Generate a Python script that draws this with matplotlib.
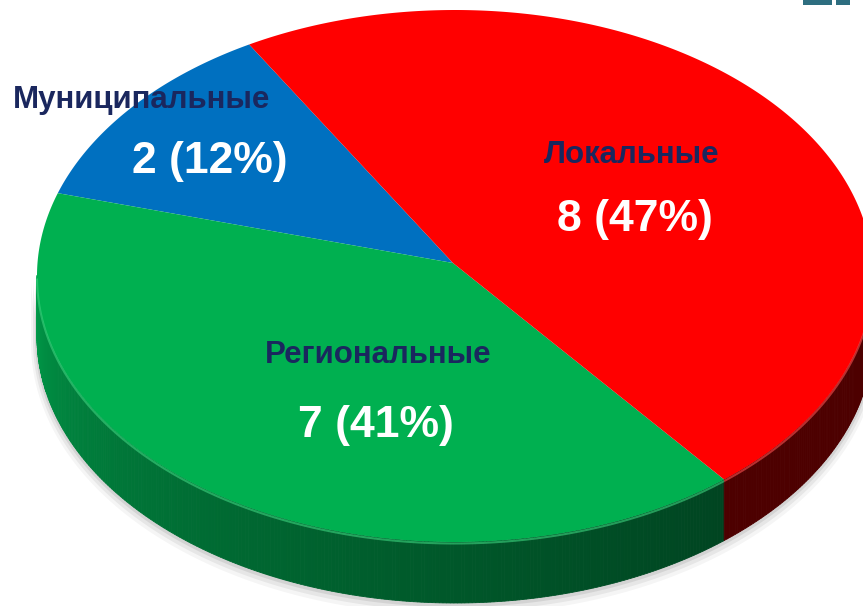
import numpy as np
import matplotlib
matplotlib.use("Agg")
import matplotlib.pyplot as plt

# data
categories = ["Муниципальные", "Региональные", "Локальные"]
counts = [2, 7, 8]
percents = [12, 41, 47]
top_colors = ["#0070C0", "#00B050", "#FF0000"]
edge_colors = ["#3A95D8", "#3DD47F", "#FF5050"]
side_light = [(0.0, 0.35, 0.62), (0.0, 0.64, 0.30), (0.38, 0.0, 0.0)]
side_dark = [(0.0, 0.20, 0.40), (0.0, 0.27, 0.13), (0.30, 0.0, 0.0)]

W, H = 863, 606
cx, cy = 455, H - 276      # ellipse centre (y up)
vx, vy = 453, H - 263      # pie apex on the top face
a, b = 418, 266             # semi axes
depth = 61
start = 119.5

fig = plt.figure(figsize=(W / 100, H / 100), dpi=100)
ax = fig.add_axes([0, 0, 1, 1])

# wedge angles from the library's pie layout
wedges, _ = ax.pie(counts, startangle=start, counterclock=True, radius=1,
                   colors=top_colors, wedgeprops=dict(linewidth=0))
spans = []
for w in wedges:
    t1, t2 = w.theta1, w.theta2
    spans.append((t1, t2))
    w.set_visible(False)

ax.set_aspect("auto")
ax.set_xlim(0, W)
ax.set_ylim(0, H)
ax.axis("off")


def ell(t, dz=0.0, grow=0.0):
    r = np.radians(t)
    return cx + (a + grow) * np.cos(r), cy + (b + grow) * np.sin(r) - dz


# soft shadow
for k, al in [(6, 0.04), (4, 0.06), (2, 0.08)]:
    t = np.linspace(180, 360, 200)
    xs, ys = ell(t, depth + k, k)
    xt, yt = ell(t[::-1], 0, k)
    ax.fill(np.r_[xs, xt], np.r_[ys, yt], color="black", alpha=al, lw=0, zorder=1)

# side walls (front half only)
for (t1, t2), lo_c, hi_c in zip(spans, side_light, side_dark):
    angs = np.r_[np.arange(t1, t2, 0.5), t2]
    for s, e in zip(angs[:-1], angs[1:]):
        m = ((s + e) / 2) % 360
        if m < 180:
            continue
        f = min(1.0, (m - 180) / 130) ** 0.6
        col = tuple(lo_c[i] + (hi_c[i] - lo_c[i]) * f for i in range(3))
        px, py = ell(np.array([s, e]))
        ax.fill([px[0], px[1], px[1], px[0]],
                [py[0], py[1], py[1] - depth, py[0] - depth],
                color=col, lw=0.6, ec=col, zorder=3)

# top face
for (t1, t2), c, ec in zip(spans, top_colors, edge_colors):
    t = np.linspace(t1, t2, 300)
    px, py = ell(t)
    ax.fill(np.r_[vx, px], np.r_[vy, py], color=c, lw=0, zorder=5)
    # light rim along the front edge
    tf = t[(t % 360) >= 180]
    if len(tf):
        rx, ry = ell(tf, 1.5)
        ax.plot(rx, ry, color=ec, lw=1.5, alpha=0.6, zorder=6,
                solid_capstyle="butt")

fam = ["Liberation Sans", "DejaVu Sans"]
navy = "#1A275E"
name_pos = [(142, H - 100), (378, H - 355), (632, H - 155)]
val_pos = [(210, H - 162), (376, H - 426), (635, H - 219)]
for name, n, p, (nx, ny), (tx, ty) in zip(categories, counts, percents, name_pos, val_pos):
    ax.text(nx, ny, name, ha="center", va="center", fontsize=22.5,
            fontweight="bold", color=navy, family=fam, zorder=10)
    ax.text(tx, ty, f"{n} ({p}%)", ha="center", va="center", fontsize=32,
            fontweight="bold", color="white", family=fam, zorder=10)

# clipped logo fragment in the corner
ax.fill([803, 832, 832, 803], [H, H, H - 5, H - 5], color="#2E6E80", lw=0, zorder=10)
ax.fill([836, 850, 850, 836], [H, H, H - 5, H - 5], color="#2E6E80", lw=0, zorder=10)

fig.savefig("out.png", dpi=100)
